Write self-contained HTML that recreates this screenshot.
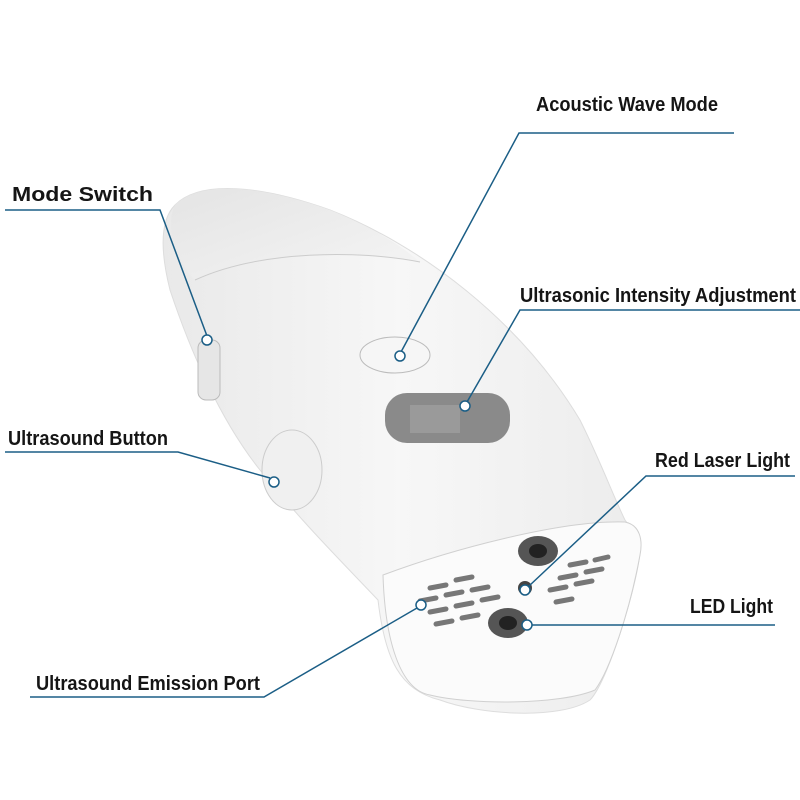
<!DOCTYPE html>
<html><head><style>
body{margin:0;background:#fff;}
svg{display:block}
text{font-family:"Liberation Sans",sans-serif;font-size:20px;font-weight:bold;fill:#151515;}
</style></head><body>
<svg width="800" height="800" viewBox="0 0 800 800">
<defs>
<linearGradient id="g1" x1="0" y1="0" x2="1" y2="1"><stop offset="0" stop-color="#e4e4e4"/><stop offset="1" stop-color="#f5f5f5"/></linearGradient>
<linearGradient id="g2" x1="0" y1="0" x2="1" y2="0"><stop offset="0" stop-color="#e9e9e9"/><stop offset="0.5" stop-color="#f7f7f7"/><stop offset="1" stop-color="#ececec"/></linearGradient>
</defs>
<path d="M175,205 C200,180 260,185 330,210 C420,245 520,320 580,420 C600,460 615,500 625,520 L640,540 C645,560 610,680 590,700 C560,720 480,715 440,700 C400,690 385,660 378,600 C340,560 300,520 260,470 C220,420 190,350 170,290 C160,250 160,220 175,205 Z" fill="url(#g2)" stroke="#ddd"/>
<path d="M175,205 C200,180 260,185 330,210 C360,222 395,240 420,262 C360,250 260,250 195,280 C175,260 165,225 175,205 Z" fill="url(#g1)"/>
<path d="M383,575 C450,550 560,520 625,522 C640,525 643,540 640,555 C630,610 610,670 595,690 C560,705 470,705 430,695 C400,690 385,640 383,575 Z" fill="#fbfbfb" stroke="#d0d0d0"/>
<g stroke="#777" stroke-width="5" stroke-linecap="round">
<line x1="430" y1="588" x2="446" y2="585"/><line x1="456" y1="580" x2="472" y2="577"/>
<line x1="420" y1="601" x2="436" y2="598"/><line x1="446" y1="595" x2="462" y2="592"/><line x1="472" y1="590" x2="488" y2="587"/>
<line x1="430" y1="612" x2="446" y2="609"/><line x1="456" y1="606" x2="472" y2="603"/><line x1="482" y1="600" x2="498" y2="597"/>
<line x1="436" y1="624" x2="452" y2="621"/><line x1="462" y1="618" x2="478" y2="615"/>
<line x1="570" y1="565" x2="586" y2="562"/><line x1="595" y1="560" x2="608" y2="557"/>
<line x1="560" y1="578" x2="576" y2="575"/><line x1="586" y1="572" x2="602" y2="569"/>
<line x1="550" y1="590" x2="566" y2="587"/><line x1="576" y1="584" x2="592" y2="581"/>
<line x1="556" y1="602" x2="572" y2="599"/>
</g>
<ellipse cx="538" cy="551" rx="20" ry="15" fill="#555"/><ellipse cx="538" cy="551" rx="9" ry="7" fill="#222"/>
<ellipse cx="508" cy="623" rx="20" ry="15" fill="#555"/><ellipse cx="508" cy="623" rx="9" ry="7" fill="#222"/>
<circle cx="525" cy="588" r="7" fill="#444"/>
<ellipse cx="395" cy="355" rx="35" ry="18" fill="#f6f6f6" stroke="#bbb"/>
<rect x="385" y="393" width="125" height="50" rx="22" fill="#8a8a8a"/>
<rect x="410" y="405" width="50" height="28" fill="#9a9a9a"/>
<rect x="198" y="340" width="22" height="60" rx="8" fill="#e6e6e6" stroke="#bbb"/>
<ellipse cx="292" cy="470" rx="30" ry="40" fill="#f0f0f0" stroke="#ccc"/>
<path d="M195,280 C260,250 360,250 420,262" fill="none" stroke="#ccc"/>
<g stroke="#1b5e86" stroke-width="1.5" fill="none">
<polyline points="734,133 519,133 401,352"/><circle cx="400" cy="356" r="5" fill="#fff"/>
<polyline points="5,210 160,210 207,336"/><circle cx="207" cy="340" r="5" fill="#fff"/>
<polyline points="800,310 520,310 467,402"/><circle cx="465" cy="406" r="5" fill="#fff"/>
<polyline points="5,452 178,452 270,478"/><circle cx="274" cy="482" r="5" fill="#fff"/>
<polyline points="795,476 646,476 529,586"/><circle cx="525" cy="590" r="5" fill="#fff"/>
<polyline points="775,625 532,625"/><circle cx="527" cy="625" r="5" fill="#fff"/>
<polyline points="30,697 264,697 417,608"/><circle cx="421" cy="605" r="5" fill="#fff"/>
</g>
<text x="536" y="111" textLength="182" lengthAdjust="spacingAndGlyphs">Acoustic Wave Mode</text>
<text x="12" y="201" textLength="141" lengthAdjust="spacingAndGlyphs">Mode Switch</text>
<text x="520" y="302" textLength="276" lengthAdjust="spacingAndGlyphs">Ultrasonic Intensity Adjustment</text>
<text x="8" y="445" textLength="160" lengthAdjust="spacingAndGlyphs">Ultrasound Button</text>
<text x="655" y="467" textLength="135" lengthAdjust="spacingAndGlyphs">Red Laser Light</text>
<text x="690" y="613" textLength="83" lengthAdjust="spacingAndGlyphs">LED Light</text>
<text x="36" y="690" textLength="224" lengthAdjust="spacingAndGlyphs">Ultrasound Emission Port</text>
</svg>
</body></html>
